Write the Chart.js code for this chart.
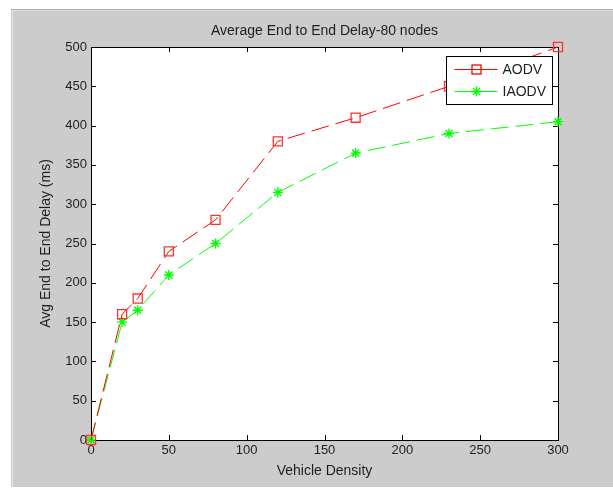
<!DOCTYPE html>
<html>
<head>
<meta charset="utf-8">
<script src="https://cdn.jsdelivr.net/npm/chart.js@4/dist/chart.umd.min.js"></script>
<style>
  body { margin: 0; background: #ffffff; }
  #wrap { width: 613px; height: 490px; }
</style>
</head>
<body>
<div id="wrap"><canvas id="delayChart" width="613" height="490"></canvas></div>
<script>
// Values
const density = [0, 20, 30, 50, 80, 120, 170, 230, 300];
const aodvDelay = [0, 160, 180, 240, 280, 380, 410, 450, 500];
const iaodvDelay = [0, 150, 165, 210, 250, 315, 365, 390, 405];
const seriesNames = ["AODV", "IAODV"];
const xTicks = [0, 50, 100, 150, 200, 250, 300];
const yTicks = [0, 50, 100, 150, 200, 250, 300, 350, 400, 450, 500];
const chartTitle = "Average End to End Delay-80 nodes";
const xLabel = "Vehicle Density";
const yLabel = "Avg End to End Delay (ms)";

const textColor = "#1e1e1e";
const fontFamily = "'Liberation Sans', Arial, sans-serif";

function toPoints(xs, ys) {
  return xs.map((x, i) => ({ x: x, y: ys[i] }));
}

// little marker helpers for the legend
function drawSquare(ctx, x, y, side) {
  ctx.strokeRect(x - side / 2, y - side / 2, side, side);
}
function drawStar(ctx, x, y, r) {
  ctx.beginPath();
  for (let k = 0; k < 4; k++) {
    const a = k * Math.PI / 4;
    ctx.moveTo(x - r * Math.cos(a), y - r * Math.sin(a));
    ctx.lineTo(x + r * Math.cos(a), y + r * Math.sin(a));
  }
  ctx.stroke();
}

// grey figure window, white axes, box with inward ticks, legend box
const matlabLook = {
  id: "matlabLook",
  beforeDraw(chart) {
    const { ctx, chartArea: a } = chart;
    ctx.save();
    ctx.fillStyle = "#ffffff";
    ctx.fillRect(0, 0, chart.width, chart.height);
    // figure window starts a little in from the top-left and stops short of the bottom
    ctx.fillStyle = "#cccccc";
    ctx.fillRect(11, 9, chart.width - 11, 478);
    ctx.fillStyle = "#a9a9a9";
    ctx.fillRect(11, 9, chart.width - 11, 1);
    ctx.fillStyle = "#e4e4e4";
    ctx.fillRect(12, 10, chart.width - 12, 1);
    ctx.fillRect(12, 10, 1, 477);
    ctx.fillStyle = "#ffffff";
    ctx.fillRect(a.left, a.top, a.right - a.left, a.bottom - a.top);
    ctx.restore();
  },
  beforeDatasetsDraw(chart) {
    const { ctx, chartArea: a, scales } = chart;
    ctx.save();
    ctx.strokeStyle = "#000000";
    ctx.lineWidth = 1;
    ctx.strokeRect(Math.round(a.left) + 0.5, Math.round(a.top) + 0.5,
      Math.round(a.right - a.left), Math.round(a.bottom - a.top));
    const len = 5;
    ctx.beginPath();
    xTicks.forEach((v) => {
      const px = Math.round(scales.x.getPixelForValue(v)) + 0.5;
      ctx.moveTo(px, a.bottom); ctx.lineTo(px, a.bottom - len);
      ctx.moveTo(px, a.top); ctx.lineTo(px, a.top + len);
    });
    yTicks.forEach((v) => {
      const py = Math.round(scales.y.getPixelForValue(v)) + 0.5;
      ctx.moveTo(a.left, py); ctx.lineTo(a.left + len, py);
      ctx.moveTo(a.right, py); ctx.lineTo(a.right - len, py);
    });
    ctx.stroke();
    ctx.restore();
  },
  afterDatasetsDraw(chart) {
    const { ctx, chartArea: a } = chart;
    const lw = 106, lh = 48;
    const lx = Math.round(a.right - 6 - lw) + 0.5;
    const ly = Math.round(a.top + 9) + 0.5;
    ctx.save();
    ctx.fillStyle = "#ffffff";
    ctx.fillRect(lx, ly, lw, lh);
    ctx.strokeStyle = "#000000";
    ctx.lineWidth = 1;
    ctx.strokeRect(lx, ly, lw, lh);
    chart.data.datasets.forEach((ds, i) => {
      const y = ly + 13 + i * 22;
      ctx.strokeStyle = ds.borderColor;
      ctx.lineWidth = 1;
      ctx.setLineDash([]);
      ctx.beginPath();
      ctx.moveTo(lx + 8, y);
      ctx.lineTo(lx + 51, y);
      ctx.stroke();
      ctx.lineWidth = 1.3;
      if (ds.pointStyle === "rect") drawSquare(ctx, lx + 30, y, 9);
      else drawStar(ctx, lx + 30, y, 5);
      ctx.fillStyle = textColor;
      ctx.font = "14px " + fontFamily;
      ctx.textBaseline = "middle";
      ctx.fillText(ds.label, lx + 56, y + 1);
    });
    ctx.restore();
  }
};

new Chart(document.getElementById("delayChart"), {
  type: "line",
  data: {
    datasets: [
      {
        label: seriesNames[0],
        data: toPoints(density, aodvDelay),
        borderColor: "#ff0000",
        borderWidth: 1,
        borderDash: [18, 7],
        pointStyle: "rect",
        pointRadius: 6.4,
        pointBorderWidth: 1.3,
        pointBorderColor: "#ff3030",
        pointBackgroundColor: "rgba(0,0,0,0)",
        tension: 0,
        clip: false
      },
      {
        label: seriesNames[1],
        data: toPoints(density, iaodvDelay),
        borderColor: "#00ff00",
        borderWidth: 1,
        borderDash: [18, 7],
        pointStyle: "star",
        pointRadius: 5,
        pointBorderWidth: 1.4,
        pointBorderColor: "#00ff00",
        pointBackgroundColor: "#00ff00",
        tension: 0,
        clip: false
      }
    ]
  },
  options: {
    responsive: false,
    animation: false,
    layout: { padding: { left: 0, right: 55, top: 0, bottom: 0 } },
    plugins: {
      legend: { display: false },
      tooltip: { enabled: false },
      title: { display: false }
    },
    scales: {
      x: {
        type: "linear",
        min: 0,
        max: 300,
        afterBuildTicks: (scale) => { scale.ticks = xTicks.map((v) => ({ value: v })); },
        afterFit: (scale) => { scale.height = 50; },
        grid: { display: false, drawTicks: false },
        border: { display: false },
        ticks: {
          color: textColor,
          font: { family: fontFamily, size: 13 },
          padding: 3,
          maxRotation: 0
        },
        title: {
          display: true,
          text: xLabel,
          color: textColor,
          font: { family: fontFamily, size: 14 },
          padding: { bottom: 10.5 }
        }
      },
      // top axis only carries the figure title, centred over the plot box
      xTop: {
        type: "linear",
        position: "top",
        min: 0,
        max: 300,
        afterFit: (scale) => { scale.height = 47; },
        grid: { display: false, drawTicks: false },
        border: { display: false },
        ticks: { display: false },
        title: {
          display: true,
          text: chartTitle,
          color: textColor,
          font: { family: fontFamily, size: 14 },
          padding: { top: 22.5 }
        }
      },
      y: {
        type: "linear",
        min: 0,
        max: 500,
        afterBuildTicks: (scale) => { scale.ticks = yTicks.map((v) => ({ value: v })); },
        afterFit: (scale) => { scale.width = 91; },
        grid: { display: false, drawTicks: false },
        border: { display: false },
        ticks: {
          color: textColor,
          font: { family: fontFamily, size: 13 },
          padding: 4
        },
        title: {
          display: true,
          text: yLabel,
          color: textColor,
          font: { family: fontFamily, size: 14 },
          padding: { top: 38 }
        }
      }
    }
  },
  plugins: [matlabLook]
});
</script>
</body>
</html>
